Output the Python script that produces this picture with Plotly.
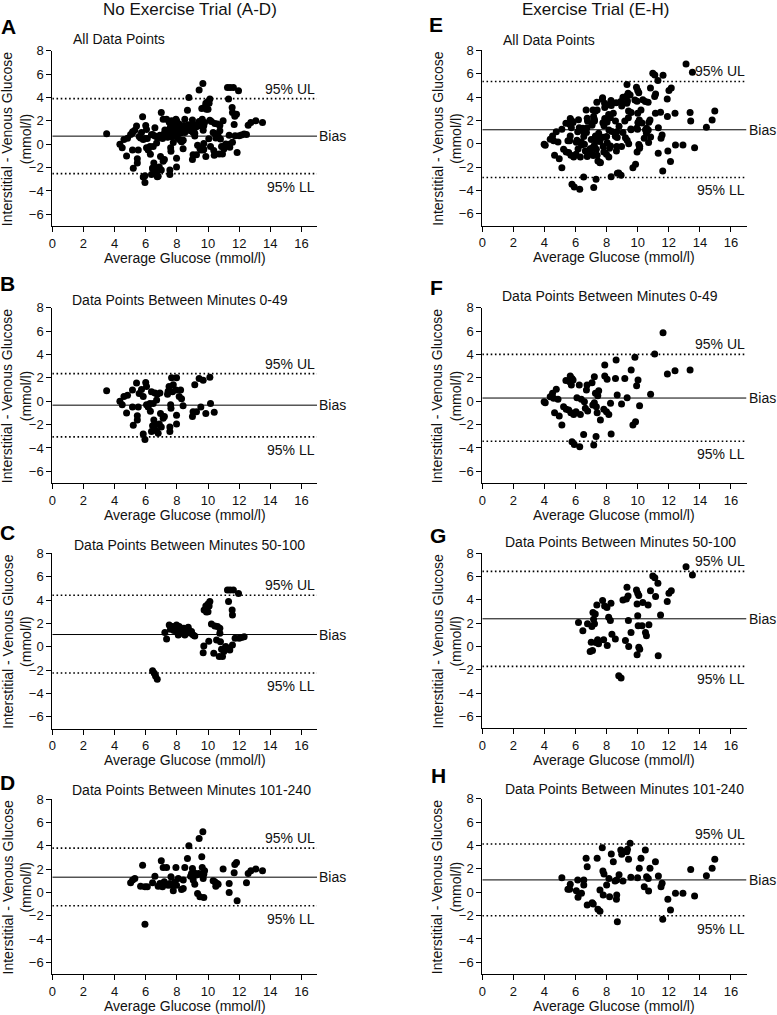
import plotly.graph_objects as go

# ---------------- data ----------------
pts_B = [(3.49,0.9),(4.34,0.0),(4.49,-0.3),(4.6,0.4),(4.83,0.5),(4.77,-1.0),(5.15,0.95),(5.2,-2.05),
         (5.15,-0.5),(5.41,1.55),(5.46,-1.25),(5.46,-1.6),(5.52,-0.5),(5.58,0.65),(5.73,1.0),(5.84,0.4),
         (5.84,-2.8),(5.95,-3.27),(6.0,1.6),(6.05,1.25),(6.05,-0.3),(6.16,-0.5),(6.27,-0.2),(6.3,-0.85),
         (6.37,0.8),(6.37,-2.6),(6.44,-2.1),(6.48,-0.2),(6.52,-1.6),(6.59,0.7),(6.59,-2.05),(6.65,-2.5),
         (6.7,0.1),(6.74,0.6),(6.8,-2.75),(6.87,-1.95),(6.91,0.7),(6.95,-1.05),(7.0,-2.2),(7.12,-1.45),
         (7.2,-1.3),(7.4,0.6),(7.44,0.85),(7.5,1.25),(7.55,-2.2),(7.55,-2.6),(7.6,-0.3),(7.62,-0.6),
         (7.66,2.0),(7.72,0.8),(7.77,1.4),(7.94,0.95),(7.98,2.0),(7.98,-1.2),(7.98,-1.95),(8.15,0.4),
         (8.24,0.95),(8.3,0.2),(8.4,-0.4),(9.0,-1.3),(9.04,-0.9),(9.15,1.4),(9.26,-0.9),(9.43,1.95),
         (9.54,-0.5),(9.69,1.8),(9.86,-1.05),(10.12,2.05),(10.16,-0.2),(10.4,-0.95)]

pts_C = [(6.44,-2.04),(6.55,-2.26),(6.63,-2.49),(6.74,-2.78),(7.23,1.22),(7.34,0.67),(7.51,1.87),
         (7.59,1.5),(7.72,1.73),(7.81,1.39),(7.98,1.87),(8.02,1.3),(8.09,1.0),(8.15,1.73),(8.24,1.44),
         (8.36,1.16),(8.45,1.59),(8.51,1.0),(8.62,1.22),(8.73,1.67),(8.79,1.39),(8.88,1.16),(8.94,1.3),
         (9.05,1.0),(9.15,0.93),(9.69,-0.5),(9.73,0.07),(9.75,3.15),(9.86,3.5),(9.9,2.98),(10.0,3.66),
         (10.0,3.0),(10.07,3.5),(10.12,3.87),(10.05,0.47),(10.22,1.95),(10.37,-0.55),(10.44,1.78),
         (10.55,0.58),(10.61,1.73),(10.72,-0.84),(10.76,1.59),(10.76,1.16),(10.8,0.44),(10.87,-0.2),
         (10.93,-0.84),(11.02,-0.41),(11.08,-0.13),(11.14,0.02),(11.25,4.86),(11.32,3.87),(11.36,-0.13),
         (11.4,-0.27),(11.42,4.86),(11.55,3.15),(11.57,2.72),(11.57,0.16),(11.63,4.86),(11.74,0.73),
         (11.96,4.57),(12.0,0.73),(12.15,0.79),(12.32,0.87)]

pts_D = [(5.03,0.83),(5.16,1.06),(5.3,1.2),(5.67,0.54),(5.8,2.34),(5.95,0.49),(5.95,-2.71),(6.1,0.49),
         (6.44,0.83),(6.59,1.4),(6.8,0.54),(6.91,0.77),(7.0,2.71),(7.08,0.49),(7.12,2.14),(7.19,0.91),
         (7.34,2.14),(7.44,0.63),(7.55,0.77),(7.62,1.34),(7.66,0.63),(7.77,0.14),(7.87,0.91),(7.94,2.14),
         (7.98,0.63),(8.09,1.2),(8.3,0.26),(8.41,0.34),(8.41,1.06),(8.51,2.14),(8.68,2.91),(8.77,4.0),
         (8.88,1.4),(8.94,1.63),(9.0,2.06),(9.05,1.06),(9.11,1.69),(9.15,0.71),(9.26,1.49),(9.33,-0.09),
         (9.39,1.63),(9.43,4.63),(9.48,-0.37),(9.54,1.57),(9.6,3.06),(9.63,2.14),(9.67,5.2),(9.69,1.2),
         (9.73,1.57),(9.73,-0.43),(9.78,1.86),(10.33,1.0),(10.44,0.91),(10.5,0.54),(10.59,0.77),
         (10.65,0.71),(10.97,2.0),(11.36,0.77),(11.36,0.0),(11.68,1.69),(11.72,2.4),(11.83,2.57),
         (11.87,-0.71),(12.47,0.83),(12.58,1.63),(12.75,1.86),(13.07,2.0),(13.5,1.86)]

pts_F = [(3.98,-0.04),(4.05,-0.13),(4.37,0.39),(4.52,0.67),(4.59,0.25),(4.65,-0.98),(4.76,1.02),
         (4.87,0.16),(4.95,-1.27),(5.12,-2.04),(5.23,-0.47),(5.38,1.76),(5.4,-0.7),(5.56,-0.75),
         (5.62,1.67),(5.66,2.16),(5.7,-0.98),(5.73,1.38),(5.77,1.95),(5.77,-3.47),(5.84,1.82),
         (5.88,-1.13),(5.92,-3.7),(6.03,-0.9),(6.09,0.3),(6.24,1.38),(6.27,-3.89),(6.31,-1.13),
         (6.37,0.16),(6.52,-2.84),(6.57,-0.04),(6.63,-0.61),(6.7,0.96),(6.74,1.38),(6.78,-0.84),
         (7.06,1.58),(7.11,-0.33),(7.17,-3.75),(7.21,-0.13),(7.21,2.1),(7.28,0.67),(7.32,-3.03),
         (7.34,-0.47),(7.39,-0.98),(7.43,0.47),(7.49,0.9),(7.6,-1.61),(7.82,-0.7),(7.88,2.16),
         (7.88,3.1),(7.99,-0.9),(8.03,1.87),(8.14,-1.13),(8.25,-0.18),(8.29,-2.81),(8.57,1.95),
         (8.61,3.52),(8.68,0.53),(8.96,-0.24),(9.17,1.95),(9.32,0.3),(9.58,2.67),(9.69,-2.04),
         (9.82,3.75),(9.86,-1.75),(9.93,1.33),(10.02,1.82),(10.12,-0.38),(10.83,0.59),(11.09,4.04),
         (11.63,5.86),(11.91,2.33),(12.4,2.61),(13.37,2.67)]

pts_G = [(6.19,2.05),(6.47,1.34),(6.77,1.94),(6.94,-0.42),(7.01,0.37),(7.05,1.71),(7.09,-0.34),
         (7.12,2.9),(7.16,2.33),(7.22,1.94),(7.27,2.79),(7.31,0.35),(7.37,3.56),(7.42,0.57),(7.48,0.23),
         (7.74,3.93),(7.81,0.57),(7.87,3.47),(8.02,3.33),(8.04,0.09),(8.13,2.5),(8.24,2.22),(8.28,3.7),
         (8.34,1.05),(8.56,0.65),(8.78,-2.5),(8.93,-2.7),(9.05,3.98),(9.21,0.51),(9.27,4.07),(9.31,5.07),
         (9.38,4.33),(9.4,2.22),(9.42,0.0),(9.57,1.2),(9.92,4.84),(9.96,3.64),(9.96,-0.71),(10.0,4.55),
         (10.0,2.62),(10.03,1.77),(10.07,4.36),(10.07,-0.06),(10.13,-0.23),(10.28,1.77),(10.33,3.76),
         (10.5,1.2),(10.56,0.91),(10.67,3.56),(10.72,1.85),(10.82,4.78),(10.97,6.03),(11.1,5.89),
         (11.15,4.27),(11.3,5.41),(11.32,-0.8),(11.47,2.7),(11.9,3.84),(12.01,4.55),(12.16,4.78),
         (13.11,6.83),(13.52,6.12)]

pts_H = [(5.12,1.24),(5.51,0.25),(5.66,0.67),(5.62,0.25),(6.05,0.13),(6.14,1.04),(6.16,-0.44),
         (6.38,-0.1),(6.53,1.04),(6.53,0.62),(6.68,2.9),(6.75,2.18),(6.75,-1.09),(7.07,-0.9),(7.14,-1.0),
         (7.39,2.9),(7.44,-1.47),(7.57,0.19),(7.57,-1.62),(7.72,3.81),(7.76,1.81),(7.83,1.55),
         (7.78,-0.24),(8.0,0.62),(8.15,1.18),(8.19,-0.38),(8.3,3.27),(8.43,2.61),(8.54,0.96),
         (8.63,-0.61),(8.65,-0.24),(8.65,1.04),(8.69,-2.52),(8.8,1.5),(8.91,3.61),(8.97,3.24),
         (9.05,0.96),(9.3,3.47),(9.34,3.67),(9.41,2.81),(9.51,4.18),(9.56,1.27),(9.99,1.24),(10.1,2.04),
         (10.21,2.9),(10.42,0.47),(10.49,3.61),(10.57,1.33),(10.68,1.18),(10.7,0.1),(10.79,2.04),
         (11.14,2.61),(11.33,1.38),(11.5,0.47),(11.57,0.76),(11.61,-2.32),(11.94,-0.61),(12.11,-1.52),
         (12.43,-0.1),(12.91,-0.1),(13.41,1.95),(13.66,-0.33),(14.42,1.41),(14.79,2.04),(14.96,2.81)]

# All-data panels are the union of the three time windows
pts_A = pts_B + pts_C + pts_D
pts_E = pts_F + pts_G + pts_H

panel_letters = ["A", "B", "C", "D", "E", "F", "G", "H"]
panel_subtitles = ["All Data Points", "Data Points Between Minutes 0-49",
                   "Data Points Between Minutes 50-100", "Data Points Between Minutes 101-240"] * 2
upper_limits = [3.90, 2.36, 4.41, 3.80, 5.33, 4.01, 6.43, 4.12]
bias_values = [0.69, -0.34, 1.05, 1.31, 1.20, 0.27, 2.37, 1.05]
lower_limits = [-2.52, -3.05, -2.24, -1.13, -2.88, -3.43, -1.70, -2.01]
x_ticks = [0, 2, 4, 6, 8, 10, 12, 14, 16]
y_ticks = [-6, -4, -2, 0, 2, 4, 6, 8]
column_titles = ["No Exercise Trial (A-D)", "Exercise Trial (E-H)"]
x_title = "Average Glucose (mmol/l)"
y_title = "Interstitial - Venous Glucose<br>(mmol/l)"

all_pts = [pts_A, pts_B, pts_C, pts_D, pts_E, pts_F, pts_G, pts_H]

# ---------------- layout geometry (pixels) ----------------
W, Hpx = 777, 1015
FONT = "Arial, Liberation Sans, sans-serif"
def px(x): return x / W
def py(y): return 1 - y / Hpx

col_x = [(52.3, 317.0), (482.3, 746.5)]
tops = [50.7, 307.7, 553.3, 799.0, 50.3, 307.7, 553.0, 798.7]
PH = 175.3
sub_y = [39.3, 300, 545, 790, 40, 296, 541.7, 789.3]
sub_x = [71, 70, 72, 70, 501, 500, 503, 503]
let_xy = [(8, 26), (7, 283), (7, 532), (7, 782), (436, 25), (437, 288), (438, 535), (438, 775)]

fig = go.Figure()
annotations = []
shapes = []
layout = {}

for i in range(8):
    n = i + 1
    col = 0 if i < 4 else 1
    x0, x1 = col_x[col]
    top = tops[i]
    bot = top + PH
    xs = [p[0] for p in all_pts[i]]
    ys = [p[1] for p in all_pts[i]]
    xr = "x" if n == 1 else f"x{n}"
    yr = "y" if n == 1 else f"y{n}"
    fig.add_trace(go.Scatter(x=xs, y=ys, mode="markers", xaxis=xr, yaxis=yr,
                             marker=dict(color="black", size=7, line=dict(width=0)),
                             showlegend=False, hoverinfo="skip"))
    axstyle = dict(showline=True, linecolor="black", linewidth=1, ticks="outside", ticklen=5,
                   tickcolor="black", tickwidth=1, showgrid=False, zeroline=False, automargin=False,
                   tickfont=dict(family=FONT, size=13, color="#111"))
    layout["xaxis" if n == 1 else f"xaxis{n}"] = dict(
        domain=[px(x0), px(x1)], anchor=yr, range=[0, 17], tickvals=x_ticks, **axstyle)
    layout["yaxis" if n == 1 else f"yaxis{n}"] = dict(
        domain=[py(bot), py(top)], anchor=xr, range=[-7, 8], tickvals=y_ticks, **axstyle)

    # reference lines
    shapes.append(dict(type="line", xref=xr, yref=yr, x0=0, x1=17, y0=bias_values[i], y1=bias_values[i],
                       line=dict(color="black", width=1), layer="below"))
    for v in (upper_limits[i], lower_limits[i]):
        shapes.append(dict(type="line", xref=xr, yref=yr, x0=0, x1=17, y0=v, y1=v,
                           line=dict(color="black", width=1.6, dash="1.6px,2.6px"), layer="below"))
    tf = dict(family=FONT, size=14, color="#111")
    annotations.append(dict(text="95% UL", xref=xr, yref=yr, x=17, y=upper_limits[i], xanchor="right",
                            yanchor="bottom", showarrow=False, font=tf, yshift=0))
    annotations.append(dict(text="95% LL", xref=xr, yref=yr, x=17, y=lower_limits[i], xanchor="right",
                            yanchor="top", showarrow=False, font=tf, yshift=-3))
    annotations.append(dict(text="Bias", xref=xr, yref=yr, x=17, y=bias_values[i], xanchor="left",
                            yanchor="middle", showarrow=False, font=tf, xshift=0))
    # subtitle
    annotations.append(dict(text=panel_subtitles[i], xref="paper", yref="paper", x=px(sub_x[i]),
                            y=py(sub_y[i]), xanchor="left", yanchor="middle", showarrow=False, font=tf))
    # panel letter
    lx, ly = let_xy[i]
    annotations.append(dict(text=f"<b>{panel_letters[i]}</b>", xref="paper", yref="paper", x=px(lx),
                            y=py(ly), xanchor="center", yanchor="middle", showarrow=False,
                            font=dict(family=FONT, size=21, color="black")))
    # x title
    annotations.append(dict(text=x_title, xref="paper", yref="paper", x=px((x0 + x1) / 2),
                            y=py(bot + 31.5), xanchor="center", yanchor="middle", showarrow=False, font=tf))
    # y title
    annotations.append(dict(text=y_title, xref="paper", yref="paper", x=px(x0 - 35.5),
                            y=py((top + bot) / 2), xanchor="center", yanchor="middle", showarrow=False,
                            textangle=-90, font=tf))

annotations.append(dict(text=column_titles[0], xref="paper", yref="paper", x=px(190), y=py(9.5),
                        xanchor="center", yanchor="middle", showarrow=False,
                        font=dict(family=FONT, size=17, color="#111")))
annotations.append(dict(text=column_titles[1], xref="paper", yref="paper", x=px(595), y=py(9),
                        xanchor="center", yanchor="middle", showarrow=False,
                        font=dict(family=FONT, size=17, color="#111")))

fig.update_layout(width=W, height=Hpx, margin=dict(l=0, r=0, t=0, b=0, autoexpand=False),
                  paper_bgcolor="white", plot_bgcolor="white", annotations=annotations, shapes=shapes,
                  hovermode=False, **layout)
# remove the default 8px page margin so the figure sits at the window's top-left corner
fig.write_html("out.html", config={"displayModeBar": False, "staticPlot": True},
               post_script="document.body.style.margin='0px';")
